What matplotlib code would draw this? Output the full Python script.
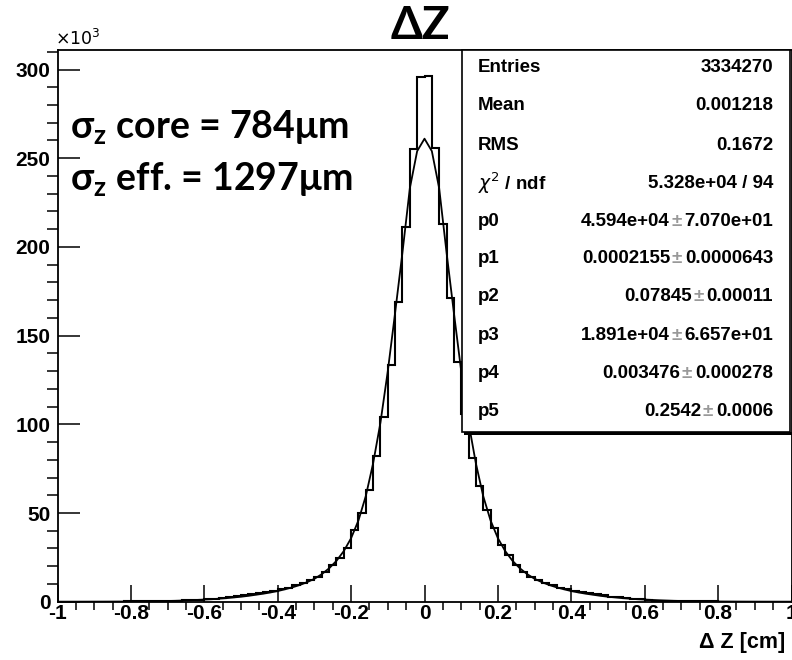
import numpy as np
import matplotlib.pyplot as plt
from matplotlib.patches import Rectangle
from matplotlib.ticker import MultipleLocator

W, H = 792, 660

# histogram contents [10^3 entries], 100 bins of 0.02 cm between -1 and 1
counts_neg = [0.025, 0.03, 0.035, 0.04, 0.05, 0.06, 0.07, 0.08, 0.1, 0.12,
              0.14, 0.17, 0.2, 0.25, 0.3, 0.4, 0.55, 0.7, 0.9, 1.2,
              1.5, 1.8, 2.3, 2.7, 3.1, 3.7, 4.2, 4.8, 5.5, 6.3,
              7.2, 8.0, 9.3, 10.5, 12.2, 14.1, 16.9, 20.7, 24.5, 30.1,
              40.4, 50.0, 63.0, 82.0, 104.0, 133.5, 169.0, 211.0, 255.0, 295.5]
counts_pos = [296.5, 255.5, 213.0, 171.0, 135.0, 106.0, 81.0, 65.0, 51.7, 41.4,
              32.0, 26.3, 20.7, 16.9, 14.1, 12.2, 10.4, 9.4, 7.9, 7.3,
              5.9, 5.4, 4.8, 4.5, 3.8, 2.8, 2.5, 2.3, 1.5, 1.3,
              1.2, 0.6, 0.5, 0.45, 0.3, 0.25, 0.2, 0.17, 0.14, 0.12,
              0.1, 0.08, 0.07, 0.06, 0.05, 0.04, 0.035, 0.03, 0.025, 0.02]

# double-gaussian fit, read at the bin edges [10^3]
fit_neg = [0.006, 0.008, 0.01, 0.015, 0.02, 0.03, 0.04, 0.05, 0.07, 0.09,
           0.12, 0.15, 0.2, 0.25, 0.32, 0.4, 0.5, 0.65, 0.8, 1.0,
           1.2, 1.4, 1.7, 2.0, 2.4, 2.8, 3.3, 3.9, 4.5, 5.2,
           6.0, 7.0, 8.1, 9.4, 11.0, 12.9, 15.5, 18.8, 23.0, 28.5,
           35.8, 45.8, 59.5, 78.0, 101.0, 130.0, 163.0, 197.0, 233.0, 254.0]
fit_pos = [261.0, 254.0, 233.0, 197.0, 163.0, 130.0, 101.0, 78.0, 59.5, 45.8,
           35.8, 28.5, 23.0, 18.8, 15.5, 12.9, 11.0, 9.4, 8.1, 7.0,
           6.0, 5.2, 4.5, 3.9, 3.3, 2.8, 2.4, 2.0, 1.7, 1.4,
           1.2, 1.0, 0.8, 0.65, 0.5, 0.4, 0.32, 0.25, 0.2, 0.15,
           0.12, 0.09, 0.07, 0.05, 0.04, 0.03, 0.02, 0.015, 0.01, 0.008, 0.006]

xticks = [-1, -0.8, -0.6, -0.4, -0.2, 0, 0.2, 0.4, 0.6, 0.8, 1]
xtick_labels = ["-1", "-0.8", "-0.6", "-0.4", "-0.2", "0", "0.2", "0.4", "0.6", "0.8", "1"]
yticks = [0, 50, 100, 150, 200, 250, 300]

stats = [("Entries", "3334270", None),
         ("Mean", "0.001218", None),
         ("RMS", "0.1672", None),
         (r"$\chi^2$ / ndf", "5.328e+04 / 94", None),
         ("p0", "4.594e+04", "7.070e+01"),
         ("p1", "0.0002155", "0.0000643"),
         ("p2", "0.07845", "0.00011"),
         ("p3", "1.891e+04", "6.657e+01"),
         ("p4", "0.003476", "0.000278"),
         ("p5", "0.2542", "0.0006")]

plt.rcParams['mathtext.fontset'] = 'custom'
plt.rcParams['mathtext.rm'] = 'Lato:bold'
plt.rcParams['mathtext.it'] = 'Lato:bold'
plt.rcParams['mathtext.bf'] = 'Lato:bold'

edges = np.linspace(-1.0, 1.0, 101)
fit_x = np.linspace(-1.0, 1.0, 101)
counts = counts_neg + counts_pos
fit_y = fit_neg + fit_pos


def fx(x):
    return x / W


def fy(y):
    return 1 - y / H


fig = plt.figure(figsize=(W / 100, H / 100), dpi=100)
ax = fig.add_axes([fx(57.5), fy(601.7), 734 / W, 551.7 / H])

ax.stairs(counts, edges, color="black", lw=1.5, zorder=2)
ax.plot(fit_x, fit_y, color="black", lw=1.3, zorder=3)

ax.set_xlim(-1, 1)
ax.set_ylim(0, 311)
ax.set_xticks(xticks, xtick_labels)
ax.set_yticks(yticks)
ax.xaxis.set_minor_locator(MultipleLocator(0.05))
ax.yaxis.set_minor_locator(MultipleLocator(10))
ax.tick_params(direction="in", top=False, right=False, width=1.1,
               labelsize=15, colors="black")
ax.tick_params(axis="x", which="major", length=12, pad=2)
ax.tick_params(axis="x", which="minor", length=6, width=1.1)
ax.tick_params(axis="y", which="major", length=16, pad=5)
ax.tick_params(axis="y", which="minor", length=8, width=1.1)
for lab in ax.get_xticklabels() + ax.get_yticklabels():
    lab.set_fontfamily("Liberation Sans")
    lab.set_fontweight("bold")
for sp in ax.spines.values():
    sp.set_linewidth(1.3)

# stats box (covers the right part of the plot, as in ROOT)
ax.add_patch(Rectangle((fx(464), fy(435)), (792 - 464) / W, 3 / H,
                       transform=fig.transFigure, facecolor="black",
                       edgecolor="none", zorder=5, clip_on=False))
ax.add_patch(Rectangle((fx(462), fy(432)), (789.5 - 462) / W, (432 - 50) / H,
                       transform=fig.transFigure, facecolor="white",
                       edgecolor="black", lw=1.2, zorder=5, clip_on=False))

sfont = dict(fontsize=13.5, fontfamily="Liberation Sans", fontweight="bold",
             math_fontfamily="dejavusans", zorder=6)
row_y = [68, 106, 145, 183, 221, 259, 297, 336, 374, 412]
for (lab, val, err), y in zip(stats, row_y):
    ax.text(fx(478), fy(y), lab, ha="left", va="center",
            transform=fig.transFigure, **sfont)
    if err is None:
        ax.text(fx(773), fy(y), val, ha="right", va="center",
                transform=fig.transFigure, **sfont)
    else:
        t_err = ax.text(fx(773), fy(y), err, ha="right", va="center",
                        transform=fig.transFigure, **sfont)
        t_pm = ax.annotate("±", xy=(0, 0.5), xycoords=t_err, xytext=(-2, 0),
                           textcoords="offset points", ha="right", va="center",
                           color="0.6", **sfont)
        ax.annotate(val, xy=(0, 0.5), xycoords=t_pm, xytext=(-1, 0),
                    textcoords="offset points", ha="right", va="center", **sfont)

# titles and labels
fig.text(fx(420), fy(39), "ΔZ", ha="center", va="baseline", fontsize=33,
         fontweight="bold", family=["Lato", "Open Sans", "DejaVu Sans"])
fig.text(fx(55), fy(45), r"$\times10^{3}$", ha="left", va="baseline",
         fontsize=12.5, fontfamily="Liberation Sans", math_fontfamily="dejavusans")
fig.text(fx(785), fy(648), "Δ Z [cm]", ha="right", va="baseline", fontsize=15.5,
         fontweight="bold", family=["Liberation Sans", "DejaVu Sans"])

fig.text(fx(70), fy(138), r"$\mathregular{σ_z}$ core = 784μm", ha="left",
         va="baseline", fontsize=27, fontweight="bold",
         family=["Lato", "Open Sans", "DejaVu Sans"])
fig.text(fx(70), fy(190), r"$\mathregular{σ_z}$ eff. = 1297μm", ha="left",
         va="baseline", fontsize=27, fontweight="bold",
         family=["Lato", "Open Sans", "DejaVu Sans"])

fig.savefig("out.png", dpi=100)
